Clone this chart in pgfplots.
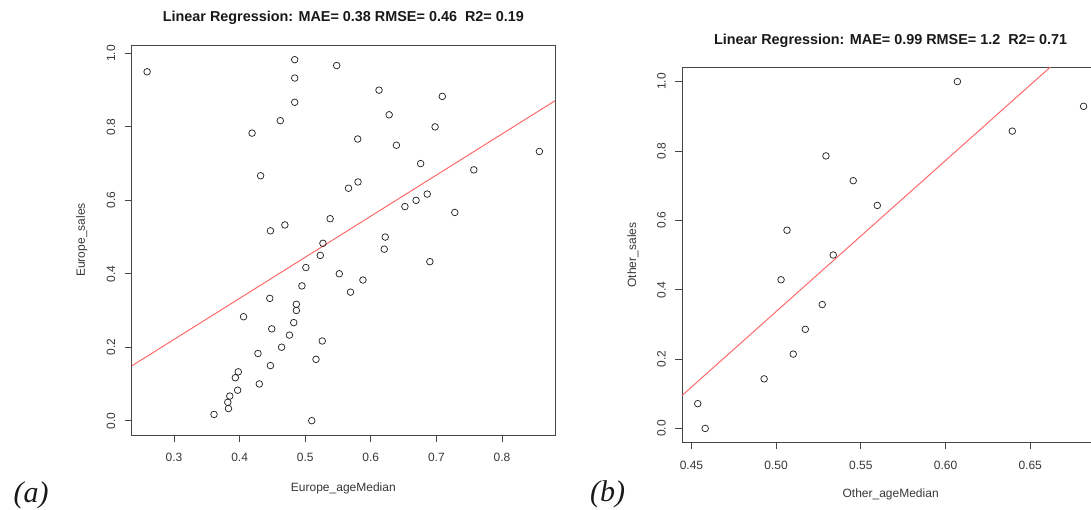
\documentclass[border=0pt]{standalone}
\usepackage{pgfplots}
\pgfplotsset{compat=1.18}
\usepackage{fontspec}
\setmainfont{Liberation Sans}
\newfontfamily\timesfont{Liberation Serif}
\definecolor{regred}{RGB}{255,105,105}
\definecolor{axgray}{RGB}{70,70,70}
\definecolor{txtgray}{RGB}{55,55,55}

\pgfplotsset{
  rstyle/.style={
    scale only axis,
    tick align=outside,
    tick pos=left,
    major tick length=7.2pt,
    axis line style={axgray, line width=0.8pt},
    every tick/.style={axgray, line width=0.8pt},
    tick label style={font=\fontsize{12}{14}\selectfont, text=txtgray},
    label style={font=\fontsize{12}{14}\selectfont, text=txtgray},
    title style={font=\bfseries\fontsize{14.4}{16}\selectfont, text=black!90, at={(0.5,1)}, anchor=base, yshift=17.5pt},
    /pgf/number format/assume math mode=true,
    /pgf/number format/fixed,
    /pgf/number format/fixed zerofill,
    xticklabel style={anchor=center},
    xticklabel shift=15.5pt,
    yticklabel style={rotate=90, anchor=center},
    yticklabel shift=13.5pt,
    ytick={0,0.2,0.4,0.6,0.8,1.0},
    yticklabel style={/pgf/number format/precision=1},
  },
  scat/.style={only marks, mark=o, mark size=3.3pt, mark options={black!85, line width=0.75pt}},
  regl/.style={no markers, color=regred, line width=1pt},
}

\begin{document}
\begin{tikzpicture}
% ---------------- (a) Europe ----------------
\begin{axis}[rstyle,
  at={(131.7pt,75pt)}, anchor=south west,
  width=423.3pt, height=390pt,
  xmin=0.2355, xmax=0.8808, ymin=-0.039, ymax=1.023,
  xtick={0.3,0.4,0.5,0.6,0.7,0.8},
  xticklabel style={/pgf/number format/precision=1},
  title={Linear Regression: MAE= 0.38 RMSE= 0.46 \ R2= 0.19},
  xlabel={Europe\_ageMedian},
  ylabel={Europe\_sales},
  xlabel style={at={(axis description cs:0.5,-0.1359)}, anchor=center},
  ylabel style={at={(axis description cs:-0.1181,0.5)}, anchor=center},
]
\addplot[scat] coordinates {
(0.259,0.950) (0.484,0.983) (0.484,0.933) (0.484,0.867) (0.548,0.967)
(0.6125,0.900) (0.709,0.883) (0.628,0.833) (0.419,0.783) (0.462,0.817)
(0.698,0.800) (0.580,0.767) (0.639,0.750) (0.857,0.733) (0.432,0.667)
(0.676,0.700) (0.757,0.683) (0.566,0.633) (0.5805,0.650) (0.686,0.617)
(0.669,0.600) (0.652,0.583) (0.728,0.567) (0.538,0.550) (0.469,0.533)
(0.447,0.517) (0.527,0.483) (0.622,0.500) (0.6205,0.467) (0.523,0.450)
(0.690,0.433) (0.501,0.417) (0.552,0.400) (0.588,0.383) (0.569,0.350)
(0.495,0.367) (0.446,0.333) (0.4865,0.317) (0.4865,0.300) (0.406,0.283)
(0.4825,0.267) (0.449,0.250) (0.476,0.233) (0.526,0.217) (0.464,0.200)
(0.428,0.183) (0.5165,0.167) (0.447,0.150) (0.398,0.133) (0.3935,0.117)
(0.430,0.100) (0.397,0.083) (0.385,0.067) (0.382,0.050) (0.383,0.033)
(0.361,0.017) (0.510,0.000)
};
\addplot[regl] coordinates {(0.2,0.1093) (0.9,0.8926)};
\end{axis}

% ---------------- (b) Other ----------------
\begin{axis}[rstyle,
  at={(682.3pt,67.7pt)}, anchor=south west,
  width=416.7pt, height=374.6pt,
  xmin=0.4446, xmax=0.6906, ymin=-0.04, ymax=1.04,
  xtick={0.45,0.50,0.55,0.60,0.65},
  xticklabel style={/pgf/number format/precision=2},
  title={Linear Regression: MAE= 0.99 RMSE= 1.2 \ R2= 0.71},
  xlabel={Other\_ageMedian},
  ylabel={Other\_sales},
  xlabel style={at={(axis description cs:0.5,-0.138)}, anchor=center},
  ylabel style={at={(axis description cs:-0.1183,0.5)}, anchor=center},
]
\addplot[scat] coordinates {
(0.607,1.000) (0.6815,0.9286) (0.6394,0.8571) (0.5294,0.7857) (0.5455,0.7143)
(0.5597,0.6429) (0.5064,0.5714) (0.5337,0.5000) (0.5029,0.4286) (0.5272,0.3571)
(0.5172,0.2857) (0.5101,0.2143) (0.4929,0.1429) (0.4537,0.0714) (0.4581,0.0000)
};
\addplot[regl] coordinates {(0.40,-0.0986) (0.70,1.208)};
\end{axis}

\node[anchor=base west, font=\timesfont\itshape\fontsize{30}{32}\selectfont, text=black!90] at (10pt,7.3pt) {(a)};
\node[anchor=base west, font=\timesfont\itshape\fontsize{30}{32}\selectfont, text=black!90] at (586.7pt,8.6pt) {(b)};

\pgfresetboundingbox
\useasboundingbox (0pt,0pt) rectangle (1091pt,510pt);
\end{tikzpicture}
\end{document}
